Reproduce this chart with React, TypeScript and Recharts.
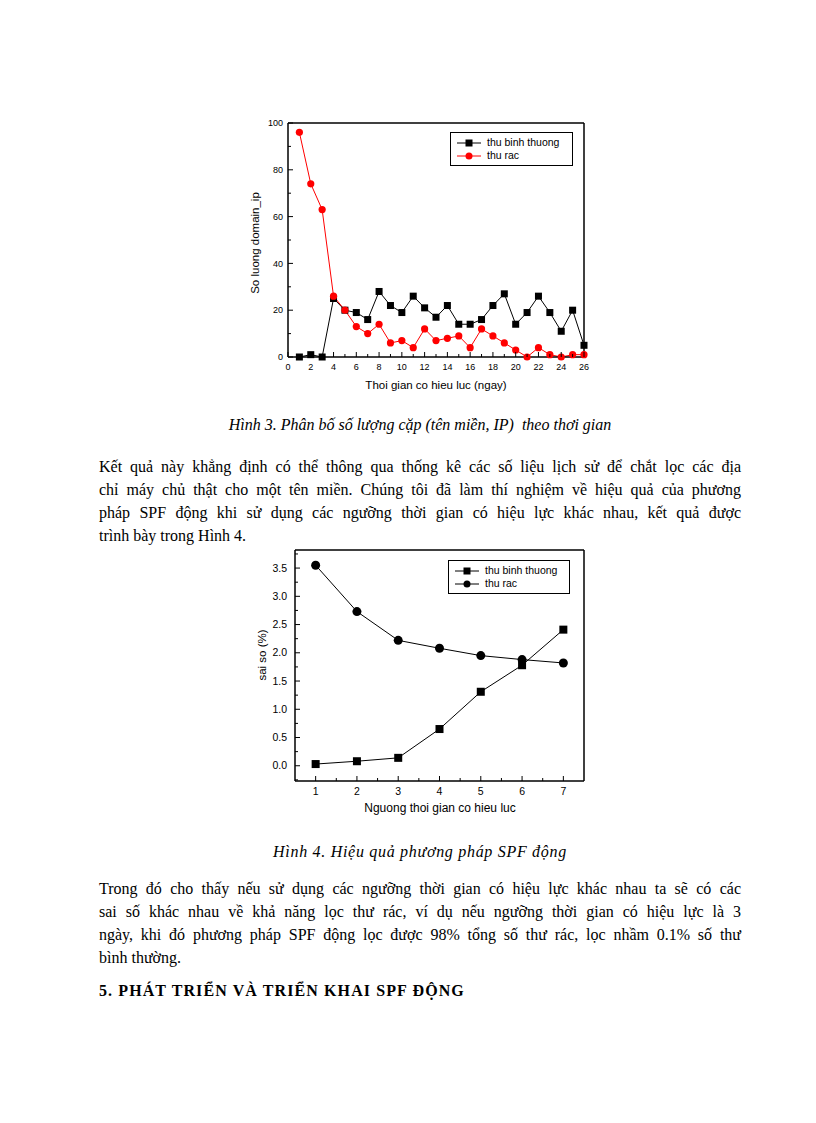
import React from 'react';
import { LineChart, Line, XAxis, YAxis, Legend } from 'recharts';

// Hình 3 data
const days = [1, 2, 3, 4, 5, 6, 7, 8, 9, 10, 11, 12, 13, 14, 15, 16, 17, 18, 19, 20, 21, 22, 23, 24, 25, 26];
const normalMail = [0, 1, 0, 25, 20, 19, 16, 28, 22, 19, 26, 21, 17, 22, 14, 14, 16, 22, 27, 14, 19, 26, 19, 11, 20, 5];
const spamMail = [96, 74, 63, 26, 20, 13, 10, 14, 6, 7, 4, 12, 7, 8, 9, 4, 12, 9, 6, 3, 0, 4, 1, 0, 1, 1];
const fig3XTicks = [0, 1, 2, 3, 4, 5, 6, 7, 8, 9, 10, 11, 12, 13, 14, 15, 16, 17, 18, 19, 20, 21, 22, 23, 24, 25, 26];
const fig3XMajor = [0, 2, 4, 6, 8, 10, 12, 14, 16, 18, 20, 22, 24, 26];
const fig3YTicks = [0, 10, 20, 30, 40, 50, 60, 70, 80, 90, 100];
const fig3YMajor = [0, 20, 40, 60, 80, 100];

// Hình 4 data
const thresholds = [1, 2, 3, 4, 5, 6, 7];
const normalError = [0.03, 0.08, 0.14, 0.65, 1.31, 1.78, 2.41];
const spamError = [3.55, 2.73, 2.22, 2.08, 1.95, 1.88, 1.82];
const fig4XTicks = [1, 1.5, 2, 2.5, 3, 3.5, 4, 4.5, 5, 5.5, 6, 6.5, 7];
const fig4XMajor = [1, 2, 3, 4, 5, 6, 7];
const fig4YTicks = [-0.25, 0, 0.25, 0.5, 0.75, 1, 1.25, 1.5, 1.75, 2, 2.25, 2.5, 2.75, 3, 3.25, 3.5, 3.75];
const fig4YMajor = [0, 0.5, 1, 1.5, 2, 2.5, 3, 3.5];

const fig3Data = days.map((d, i) => ({ x: d, normal: normalMail[i], spam: spamMail[i] }));
const fig4Data = thresholds.map((t, i) => ({ x: t, normal: normalError[i], spam: spamError[i] }));

const SANS = '"Liberation Sans", Arial, sans-serif';
const SERIF = '"Liberation Serif", "Times New Roman", serif';

const makeXTick = (majors: number[], fontSize: number, fmt: (v: number) => string) => (props: any) => {
  const { x, y, payload } = props;
  const major = majors.includes(payload.value);
  return (
    <g>
      <line x1={x} x2={x} y1={y} y2={y - (major ? 5 : 3)} stroke="#000" strokeWidth={1} />
      {major && (
        <text x={x} y={y + 10} dy="0.35em" textAnchor="middle" fontSize={fontSize} fontFamily={SANS} fill="#000">
          {fmt(payload.value)}
        </text>
      )}
    </g>
  );
};

const makeYTick = (majors: number[], fontSize: number, gap: number, fmt: (v: number) => string) => (props: any) => {
  const { x, y, payload } = props;
  const major = majors.includes(payload.value);
  return (
    <g>
      <line x1={x} x2={x + (major ? 5 : 3)} y1={y} y2={y} stroke="#000" strokeWidth={1} />
      {major && (
        <text x={x - gap} y={y} dy="0.35em" textAnchor="end" fontSize={fontSize} fontFamily={SANS} fill="#000">
          {fmt(payload.value)}
        </text>
      )}
    </g>
  );
};

const square = (size: number, color: string) => (props: any) => {
  const { cx, cy, index } = props;
  return <rect key={`sq-${index}`} x={cx - size / 2} y={cy - size / 2} width={size} height={size} fill={color} />;
};

const circle = (r: number, color: string) => (props: any) => {
  const { cx, cy, index } = props;
  return <circle key={`ci-${index}`} cx={cx} cy={cy} r={r} fill={color} />;
};

interface LegendItem {
  label: string;
  color: string;
  shape: 'square' | 'circle';
}

const makeLegend = (items: LegendItem[], fontSize: number, markerSize: number) => () => (
  <div
    style={{
      border: '1px solid #000',
      background: '#fff',
      boxSizing: 'border-box',
      width: '100%',
      height: '100%',
      padding: '3px 0 0 6px',
      fontFamily: SANS,
      fontSize,
      lineHeight: '13px',
    }}
  >
    {items.map((it) => (
      <div key={it.label} style={{ display: 'flex', alignItems: 'center', height: 13 }}>
        <svg width={26} height={12} style={{ marginRight: 4 }}>
          <line x1={0} x2={24} y1={6} y2={6} stroke={it.color} strokeWidth={1} />
          {it.shape === 'square' ? (
            <rect x={12 - markerSize / 2} y={6 - markerSize / 2} width={markerSize} height={markerSize} fill={it.color} />
          ) : (
            <circle cx={12} cy={6} r={markerSize / 2} fill={it.color} />
          )}
        </svg>
        <span>{it.label}</span>
      </div>
    ))}
  </div>
);

const frame = { stroke: '#000', strokeWidth: 1.5 };

const Figure3 = () => (
  <LineChart width={360} height={290} data={fig3Data} margin={{ top: 12, right: 15, bottom: 42, left: 47 }}>
    <XAxis
      dataKey="x"
      type="number"
      domain={[0, 26]}
      ticks={fig3XTicks}
      interval={0}
      height={1}
      tickLine={false}
      tickSize={0}
      tickMargin={0}
      axisLine={frame}
      tick={makeXTick(fig3XMajor, 9, (v) => String(v))}
    />
    <XAxis xAxisId="top" orientation="top" dataKey="x" type="number" domain={[0, 26]} height={1} tick={false} tickLine={false} axisLine={frame} />
    <YAxis
      type="number"
      domain={[0, 100]}
      ticks={fig3YTicks}
      interval={0}
      width={1}
      tickLine={false}
      tickSize={0}
      tickMargin={0}
      axisLine={frame}
      tick={makeYTick(fig3YMajor, 9, 5, (v) => String(v))}
    />
    <YAxis yAxisId="right" orientation="right" type="number" domain={[0, 100]} width={1} tick={false} tickLine={false} axisLine={frame} />
    <Legend
      layout="vertical"
      align="center"
      verticalAlign="middle"
      wrapperStyle={{ left: 210, top: 22, width: 123, height: 34 }}
      content={makeLegend(
        [
          { label: 'thu binh thuong', color: '#000', shape: 'square' },
          { label: 'thu rac', color: '#ff0000', shape: 'circle' },
        ],
        10.5,
        7
      )}
    />
    <Line dataKey="normal" stroke="#000" strokeWidth={1} dot={square(7, '#000')} isAnimationActive={false} />
    <Line dataKey="spam" stroke="#ff0000" strokeWidth={1} dot={circle(3.6, '#ff0000')} isAnimationActive={false} />
  </LineChart>
);

const Figure4 = () => (
  <LineChart width={360} height={275} data={fig4Data} margin={{ top: 4, right: 15, bottom: 38, left: 54 }}>
    <XAxis
      dataKey="x"
      type="number"
      domain={[0.5, 7.5]}
      allowDataOverflow
      ticks={fig4XTicks}
      interval={0}
      height={1}
      tickLine={false}
      tickSize={0}
      tickMargin={0}
      axisLine={frame}
      tick={makeXTick(fig4XMajor, 10.5, (v) => String(v))}
    />
    <XAxis xAxisId="top" orientation="top" dataKey="x" type="number" domain={[0.5, 7.5]} allowDataOverflow height={1} tick={false} tickLine={false} axisLine={frame} />
    <YAxis
      type="number"
      domain={[-0.27, 3.82]}
      allowDataOverflow
      ticks={fig4YTicks}
      interval={0}
      width={1}
      tickLine={false}
      tickSize={0}
      tickMargin={0}
      axisLine={frame}
      tick={makeYTick(fig4YMajor, 10.5, 8, (v) => v.toFixed(1))}
    />
    <YAxis yAxisId="right" orientation="right" type="number" domain={[-0.27, 3.82]} allowDataOverflow width={1} tick={false} tickLine={false} axisLine={frame} />
    <Legend
      layout="vertical"
      align="center"
      verticalAlign="middle"
      wrapperStyle={{ left: 208, top: 15, width: 122, height: 34 }}
      content={makeLegend(
        [
          { label: 'thu binh thuong', color: '#000', shape: 'square' },
          { label: 'thu rac', color: '#000', shape: 'circle' },
        ],
        10.5,
        7
      )}
    />
    <Line dataKey="normal" stroke="#000" strokeWidth={1} dot={square(8, '#000')} isAnimationActive={false} />
    <Line dataKey="spam" stroke="#000" strokeWidth={1} dot={circle(4.5, '#000')} isAnimationActive={false} />
  </LineChart>
);

const para1 = [
  'Kết quả này khẳng định có thể thông qua thống kê các số liệu lịch sử để chắt lọc các địa',
  'chỉ máy chủ thật cho một tên miền. Chúng tôi đã làm thí nghiệm về hiệu quả của phương',
  'pháp SPF động khi sử dụng các ngưỡng thời gian có hiệu lực khác nhau, kết quả được',
  'trình bày trong Hình 4.',
];

const para2 = [
  'Trong đó cho thấy nếu sử dụng các ngưỡng thời gian có hiệu lực khác nhau ta sẽ có các',
  'sai số khác nhau về khả năng lọc thư rác, ví dụ nếu ngưỡng thời gian có hiệu lực là 3',
  'ngày, khi đó phương pháp SPF động lọc được 98% tổng số thư rác, lọc nhầm 0.1% số thư',
  'bình thường.',
];

const Paragraph = ({ lines, top }: { lines: string[]; top: number }) => (
  <div style={{ position: 'absolute', left: 99, top, width: 642, fontFamily: SERIF, fontSize: 16, lineHeight: '23px' }}>
    {lines.map((l, i) => (
      <div key={i} style={{ textAlign: 'justify', textAlignLast: i < lines.length - 1 ? 'justify' : 'left', whiteSpace: 'nowrap' }}>
        {l}
      </div>
    ))}
  </div>
);

const abs = (left: number, top: number): React.CSSProperties => ({ position: 'absolute', left, top });

export default function App() {
  return (
    <div style={{ position: 'absolute', left: 0, top: 0, width: 816, height: 1123, background: '#fff', color: '#000' }}>
      {/* Hình 3 */}
      <div style={abs(240, 110)}>
        <Figure3 />
      </div>
      <div
        style={{
          ...abs(255, 243),
          fontFamily: SANS,
          fontSize: 11.5,
          transform: 'translate(-50%, -50%) rotate(-90deg)',
          whiteSpace: 'nowrap',
        }}
      >
        So luong domain_ip
      </div>
      <div style={{ ...abs(436, 385), fontFamily: SANS, fontSize: 11.5, transform: 'translate(-50%, -50%)', whiteSpace: 'nowrap' }}>
        Thoi gian co hieu luc (ngay)
      </div>
      <div style={{ ...abs(99, 413), width: 642, textAlign: 'center', fontFamily: SERIF, fontStyle: 'italic', fontSize: 16, lineHeight: '23px', whiteSpace: 'pre' }}>
        {'Hình 3. Phân bố số lượng cặp (tên miền, IP)  theo thơi gian'}
      </div>

      <Paragraph lines={para1} top={454.5} />

      {/* Hình 4 */}
      <div style={abs(240, 545)}>
        <Figure4 />
      </div>
      <div
        style={{
          ...abs(262, 655),
          fontFamily: SANS,
          fontSize: 11.5,
          transform: 'translate(-50%, -50%) rotate(-90deg)',
          whiteSpace: 'nowrap',
        }}
      >
        sai so (%)
      </div>
      <div style={{ ...abs(440, 808), fontFamily: SANS, fontSize: 12, transform: 'translate(-50%, -50%)', whiteSpace: 'nowrap' }}>
        Nguong thoi gian co hieu luc
      </div>
      <div style={{ ...abs(99, 839.5), width: 642, textAlign: 'center', fontFamily: SERIF, fontStyle: 'italic', fontSize: 16, lineHeight: '23px', letterSpacing: 0.7 }}>
        Hình 4. Hiệu quả phương pháp SPF động
      </div>

      <Paragraph lines={para2} top={876.5} />

      <div style={{ ...abs(99, 978.5), fontFamily: SERIF, fontWeight: 'bold', fontSize: 16, lineHeight: '23px', letterSpacing: 1.1, whiteSpace: 'nowrap' }}>
        5. PHÁT TRIỂN VÀ TRIỂN KHAI SPF ĐỘNG
      </div>
    </div>
  );
}
